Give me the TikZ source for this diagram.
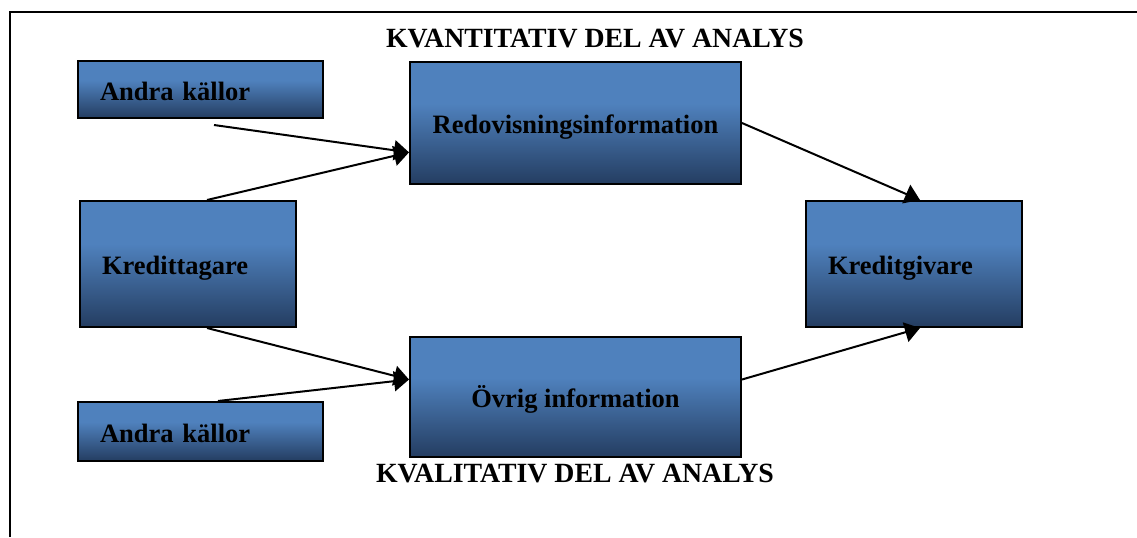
\documentclass[tikz,border=0pt]{standalone}
\usepackage{fontspec}
\setmainfont{Liberation Serif}
\usetikzlibrary{arrows.meta}

\definecolor{boxlight}{HTML}{4F81BD}
\definecolor{boxdark}{HTML}{243D61}
\pgfdeclareverticalshading{boxfill}{100bp}{color(0bp)=(boxdark); color(25bp)=(boxdark); color(58bp)=(boxlight); color(100bp)=(boxlight)}

\begin{document}
\begin{tikzpicture}[x=0.5pt,y=-0.5pt,>={Triangle[length=7.5pt,width=10pt]},line width=1pt,
  box/.style={draw=black,shading=boxfill,align=center,inner xsep=11pt,text height=10.5pt,text depth=0pt,
              font=\fontsize{13.25}{16}\selectfont\bfseries},
  side/.style={align=left},
  title/.style={anchor=base,inner sep=0pt,font=\fontsize{13.9}{16}\selectfont\bfseries}]
	\useasboundingbox (0,0) rectangle (1137,537);
	\draw[line width=0.75pt] (10,537) -- (10,12) -- (1137,12);

	\node[title]                                                            (kvant)  at (595,47)      {KVANTITATIV DEL AV ANALYS};
	\node[title]                                                            (kval)   at (575,482)     {KVALITATIV DEL AV ANALYS};
	\node[box,side,text width=100.5pt,minimum height=28.5pt]               (andraA) at (200.5,89.5)  {Andra källor};
	\node[box,minimum width=165.5pt,minimum height=61pt]                   (redov)  at (575.5,123)   {Redovisningsinformation};
	\node[box,side,text width=86pt,minimum height=63pt]                    (tagare) at (188,264)     {Kredittagare};
	\node[box,side,text width=86pt,minimum height=63pt]                    (givare) at (914,264)     {Kreditgivare};
	\node[box,minimum width=165.5pt,minimum height=60pt]                   (ovrig)  at (575.5,397)   {Övrig information};
	\node[box,side,text width=100.5pt,minimum height=29.5pt]               (andraB) at (200.5,431.5) {Andra källor};

	\path[->] ([xshift=6.75pt,yshift=-3pt]andraA.south) edge (redov.190)
	          ([xshift=9.5pt]tagare.north)               edge (redov.190)
	          ([xshift=9.5pt]tagare.south)               edge (ovrig.174)
	          ([xshift=8.75pt]andraB.north)              edge (ovrig.174)
	          (redov.east)                               edge ([xshift=3pt]givare.north)
	          (ovrig.6)                                  edge ([xshift=3pt]givare.south);
\end{tikzpicture}
\end{document}
